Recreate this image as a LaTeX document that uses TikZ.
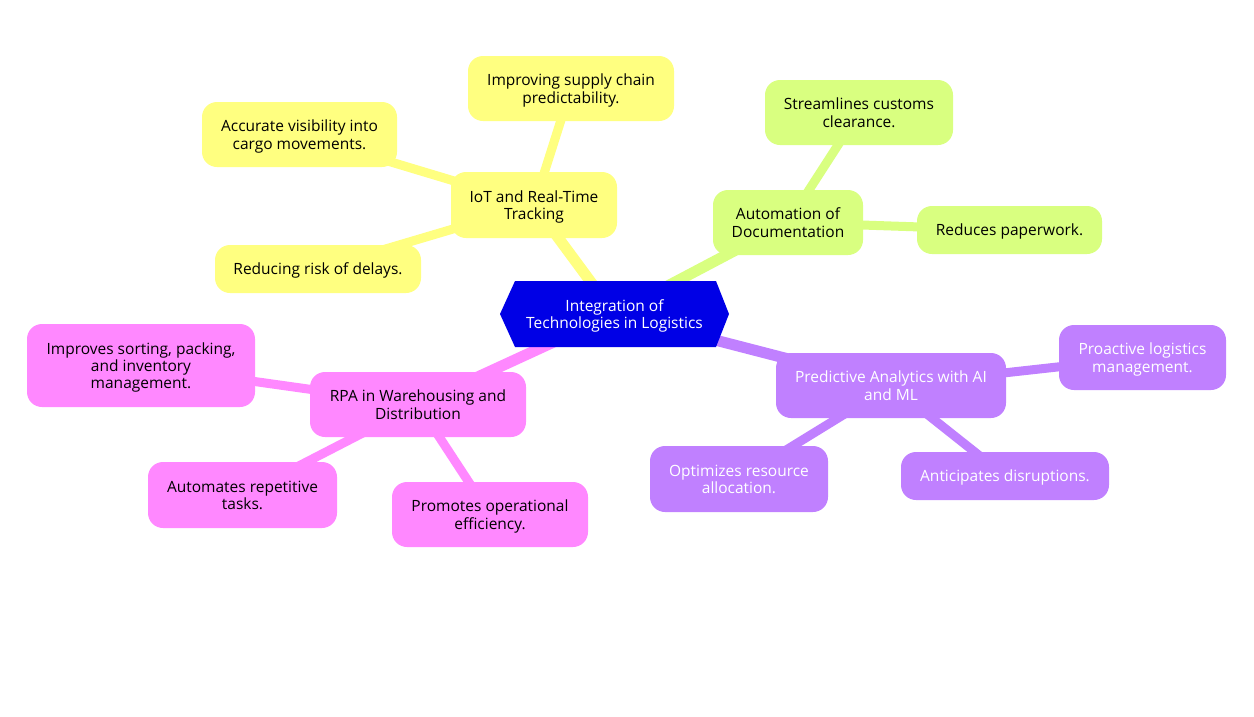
\documentclass[tikz,border=0pt]{standalone}
\usepackage{fontspec}
\setmainfont{Open Sans}
\usetikzlibrary{backgrounds}
\definecolor{cblue}{HTML}{0000E6}
\definecolor{cyel}{HTML}{FFFF80}
\definecolor{cgrn}{HTML}{D9FF80}
\definecolor{cpur}{HTML}{C080FF}
\definecolor{cpnk}{HTML}{FF88FF}
\tikzset{
  box/.style={rounded corners=15pt, inner sep=0pt, align=center, text depth=0pt,
    font=\fontsize{15.5}{17.3}\selectfont, text=black},
  yel/.style={box, fill=cyel},
  grn/.style={box, fill=cgrn},
  pur/.style={box, fill=cpur, text=white},
  pnk/.style={box, fill=cpnk},
  mainlink/.style={line width=11pt},
  sublink/.style={line width=9pt},
}
\begin{document}
\begin{tikzpicture}[x=1pt,y=-1pt]
\begin{pgfonlayer}{background}
\fill[white] (0,0) rectangle (1254,716);
\end{pgfonlayer}
\useasboundingbox (0,0) rectangle (1254,716);
% center
\node[minimum width=229pt, minimum height=66pt, inner sep=0pt] (c) at (614.5,314) {};
\fill[cblue] (500,314) -- (515,281) -- (716,281) -- (729,314) -- (716,347) -- (515,347) -- cycle;
\node[align=center, text=white, text depth=0pt, font=\fontsize{15.5}{17.3}\selectfont] (ct) at (614.5,314) {Integration of\\Technologies in Logistics};
% IoT
\node[yel, minimum width=166pt, minimum height=66pt] (iot) at (534,205) {IoT and Real-Time\\Tracking};
\node[yel, minimum width=206pt, minimum height=65pt] (iot1) at (571,88.5) {Improving supply chain\\predictability.};
\node[yel, minimum width=195pt, minimum height=65pt] (iot2) at (299.5,134.5) {Accurate visibility into\\cargo movements.};
\node[yel, minimum width=206pt, minimum height=48pt] (iot3) at (318,269) {Reducing risk of delays.};
% Automation
\node[grn, minimum width=150pt, minimum height=65pt] (aut) at (788,222.5) {Automation of\\Documentation};
\node[grn, minimum width=188pt, minimum height=65pt] (aut1) at (859,112.5) {Streamlines customs\\clearance.};
\node[grn, minimum width=185pt, minimum height=48pt] (aut2) at (1009.5,230) {Reduces paperwork.};
% Predictive
\node[pur, minimum width=230pt, minimum height=65pt] (pre) at (891,385.5) {Predictive Analytics with AI\\and ML};
\node[pur, minimum width=167pt, minimum height=65pt] (pre1) at (1142.5,357.5) {Proactive logistics\\management.};
\node[pur, minimum width=178pt, minimum height=66pt] (pre2) at (739,479) {Optimizes resource\\allocation.};
\node[pur, minimum width=208pt, minimum height=48pt] (pre3) at (1005,476) {Anticipates disruptions.};
% RPA
\node[pnk, minimum width=216pt, minimum height=65pt] (rpa) at (418,404.5) {RPA in Warehousing and\\Distribution};
\node[pnk, minimum width=228pt, minimum height=83pt] (rpa1) at (141,365.5) {Improves sorting, packing,\\and inventory\\management.};
\node[pnk, minimum width=189pt, minimum height=66pt] (rpa2) at (242.5,495) {Automates repetitive\\tasks.};
\node[pnk, minimum width=196pt, minimum height=65pt] (rpa3) at (490,514.5) {Promotes operational\\efficiency.};
\begin{pgfonlayer}{background}
\draw[mainlink, cyel] (c.center) -- (iot.center);
\draw[mainlink, cgrn] (c.center) -- (aut.center);
\draw[mainlink, cpur] (c.center) -- (pre.center);
\draw[mainlink, cpnk] (c.center) -- (rpa.center);
\draw[sublink, cyel] (iot.center) -- (iot1.center);
\draw[sublink, cyel] (iot.center) -- (iot2.center);
\draw[sublink, cyel] (iot.center) -- (iot3.center);
\draw[sublink, cgrn] (aut.center) -- (aut1.center);
\draw[sublink, cgrn] (aut.center) -- (aut2.center);
\draw[sublink, cpur] (pre.center) -- (pre1.center);
\draw[sublink, cpur] (pre.center) -- (pre2.center);
\draw[sublink, cpur] (pre.center) -- (pre3.center);
\draw[sublink, cpnk] (rpa.center) -- (rpa1.center);
\draw[sublink, cpnk] (rpa.center) -- (rpa2.center);
\draw[sublink, cpnk] (rpa.center) -- (rpa3.center);
\end{pgfonlayer}
\end{tikzpicture}
\end{document}
